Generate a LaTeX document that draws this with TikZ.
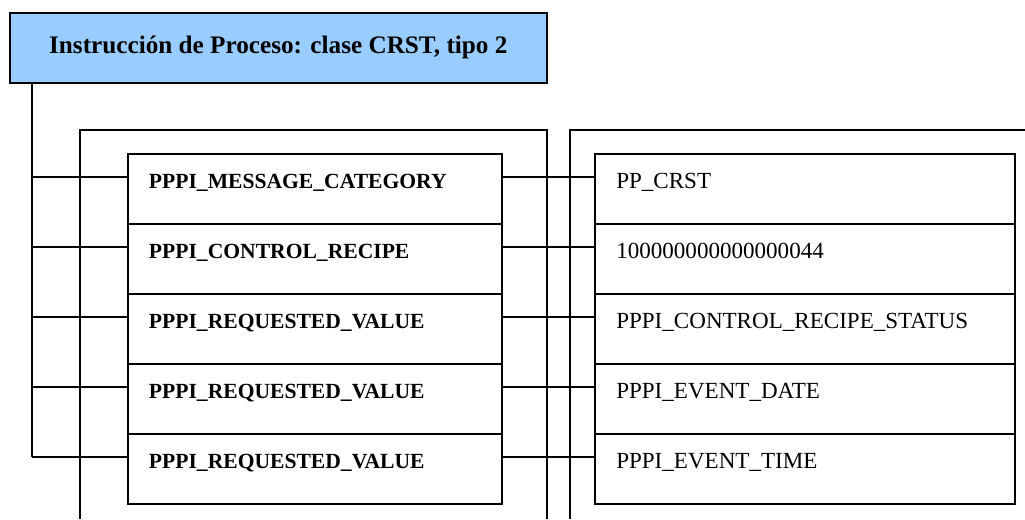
\documentclass[tikz,border=0pt]{standalone}
\usepackage{fontspec}
\setmainfont{Liberation Serif}
\usetikzlibrary{calc}
\definecolor{headblue}{RGB}{153,204,255}
\tikzset{
  frame/.style={line width=1.4pt, draw=black},
  wire/.style={line width=1.4pt},
  head/.style={frame, fill=headblue, minimum width=403pt, minimum height=52.3pt, inner sep=0pt,
    font=\bfseries\fontsize{18.9}{22}\selectfont},
  field/.style={frame, anchor=north west, inner xsep=16pt, inner ysep=0pt,
    text height=25.5pt, text depth=27pt, align=left},
  key/.style={field, text width=248.5pt, font=\bfseries\fontsize{16.2}{19}\selectfont},
  value/.style={field, text width=283.2pt, font=\fontsize{17.3}{20}\selectfont}
}

\begin{document}
\begin{tikzpicture}[x=0.75pt, y=-0.75pt]
  \useasboundingbox (0,0) rectangle (1025,519);
  % cabecera
  \node[head] (title) at (278.3,47.8) {Instrucción de Proceso: clase CRST, tipo 2};
  % marcos exteriores, abiertos por abajo
  \draw[frame] (80,519) |- (547.3,130) -- (547.3,519);
  \draw[frame] (570.3,519) |- (1025,130);
  % campos y valores
  \foreach \i/\key/\val in {
      1/PPPI\_MESSAGE\_CATEGORY/PP\_CRST,
      2/PPPI\_CONTROL\_RECIPE/100000000000000044,
      3/PPPI\_REQUESTED\_VALUE/PPPI\_CONTROL\_RECIPE\_STATUS,
      4/PPPI\_REQUESTED\_VALUE/PPPI\_EVENT\_DATE,
      5/PPPI\_REQUESTED\_VALUE/PPPI\_EVENT\_TIME} {
    \node[key] (k\i) at (126.7,{153.3+70*(\i-1)}) {\key};
    \node[value] (v\i) at (594,{153.3+70*(\i-1)}) {\val};
  }
  % conexiones
  \coordinate (trunk) at ($(title.south west)+(23.5,0)$);
  \foreach \i in {1,...,5} {
    \coordinate (p\i) at ($(k\i.north west)+(0,23.4)$);
    \coordinate (q\i) at ($(v\i.north west)+(0,23.4)$);
    \draw[wire] (trunk |- p\i) -- (p\i);
    \draw[wire] (p\i -| k\i.east) -- (q\i);
  }
  \draw[wire] (trunk) -- (trunk |- p5);
\end{tikzpicture}
\end{document}
